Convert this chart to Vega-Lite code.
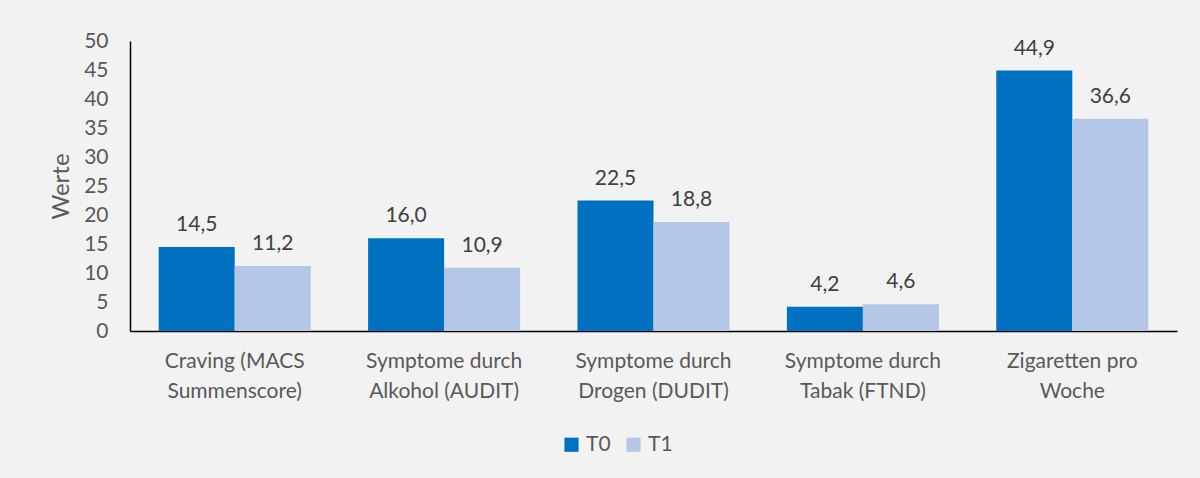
{
  "$schema": "https://vega.github.io/schema/vega-lite/v6.json",
  "width": 1047,
  "height": 290,
  "autosize": {"type": "none"},
  "padding": {"left": 130, "top": 41, "right": 23, "bottom": 147},
  "background": "#f2f2f2",
  "data": {
    "values": [
      {"Kategorie": "Craving (MACS Summenscore)", "Zeitpunkt": "T0", "Wert": 14.5},
      {"Kategorie": "Craving (MACS Summenscore)", "Zeitpunkt": "T1", "Wert": 11.2},
      {"Kategorie": "Symptome durch Alkohol (AUDIT)", "Zeitpunkt": "T0", "Wert": 16.0},
      {"Kategorie": "Symptome durch Alkohol (AUDIT)", "Zeitpunkt": "T1", "Wert": 10.9},
      {"Kategorie": "Symptome durch Drogen (DUDIT)", "Zeitpunkt": "T0", "Wert": 22.5},
      {"Kategorie": "Symptome durch Drogen (DUDIT)", "Zeitpunkt": "T1", "Wert": 18.8},
      {"Kategorie": "Symptome durch Tabak (FTND)", "Zeitpunkt": "T0", "Wert": 4.2},
      {"Kategorie": "Symptome durch Tabak (FTND)", "Zeitpunkt": "T1", "Wert": 4.6},
      {"Kategorie": "Zigaretten pro Woche", "Zeitpunkt": "T0", "Wert": 44.9},
      {"Kategorie": "Zigaretten pro Woche", "Zeitpunkt": "T1", "Wert": 36.6}
    ]
  },
  "encoding": {
    "x": {
      "field": "Kategorie",
      "type": "nominal",
      "sort": null,
      "scale": {"paddingInner": 0.274, "paddingOuter": 0.137},
      "axis": {
        "title": null,
        "labelAngle": 0,
        "ticks": false,
        "domainColor": "#000000",
        "domainWidth": 1.5,
        "labelPadding": 19,
        "labelFontSize": 21,
        "labelLineHeight": 30,
        "labelColor": "#595959",
        "labelFont": "Lato",
        "labelBaseline": "top",
        "labelExpr": "[join(slice(split(datum.label, ' '), 0, 2), ' '), join(slice(split(datum.label, ' '), 2), ' ')]"
      }
    },
    "xOffset": {"field": "Zeitpunkt", "type": "nominal", "sort": ["T0", "T1"]},
    "y": {
      "field": "Wert",
      "type": "quantitative",
      "scale": {"domain": [0, 50], "nice": false},
      "axis": {
        "title": "Werte",
        "values": [0, 5, 10, 15, 20, 25, 30, 35, 40, 45, 50],
        "grid": false,
        "ticks": false,
        "domainColor": "#000000",
        "domainWidth": 1.5,
        "labelPadding": 22,
        "labelFontSize": 21,
        "labelColor": "#595959",
        "labelFont": "Lato",
        "titleFont": "Lato",
        "titleFontSize": 24,
        "titleFontWeight": "normal",
        "titleColor": "#595959",
        "titlePadding": 10
      }
    }
  },
  "layer": [
    {
      "mark": {"type": "bar"},
      "encoding": {
        "color": {
          "field": "Zeitpunkt",
          "type": "nominal",
          "scale": {"domain": ["T0", "T1"], "range": ["#0070c0", "#b4c7e7"]},
          "legend": {
            "title": null,
            "orient": "none",
            "legendX": 431,
            "legendY": 393,
            "direction": "horizontal",
            "symbolType": "square",
            "symbolSize": 200,
            "symbolStrokeWidth": 0,
            "labelFontSize": 21,
            "labelFont": "Lato",
            "labelColor": "#595959",
            "labelOffset": 4,
            "columnPadding": 12
          }
        }
      }
    },
    {
      "mark": {"type": "text", "baseline": "alphabetic", "dy": -16, "fontSize": 21, "font": "Lato", "color": "#404040"},
      "encoding": {
        "text": {"field": "Wert", "type": "quantitative", "format": ".1f"}
      }
    }
  ],
  "config": {
    "view": {"stroke": null},
    "locale": {"number": {"decimal": ",", "thousands": ".", "grouping": [3], "currency": ["", " €"]}}
  }
}
